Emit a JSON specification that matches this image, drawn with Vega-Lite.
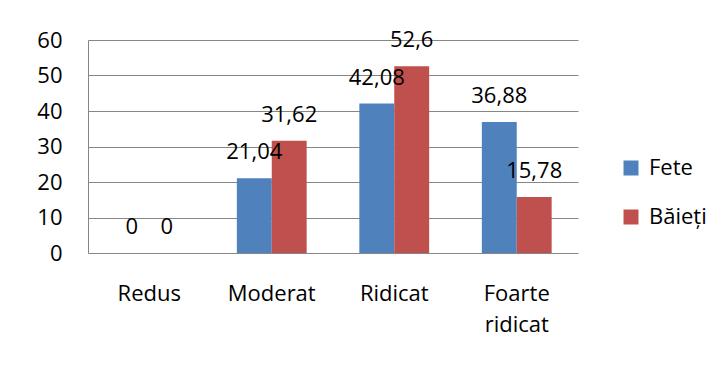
{
  "$schema": "https://vega.github.io/schema/vega-lite/v6.json",
  "autosize": "none",
  "width": 490,
  "height": 213,
  "padding": {"left": 88, "top": 40, "right": 146, "bottom": 114},
  "background": "white",
  "config": {
    "view": {"stroke": null},
    "font": "Open Sans",
    "locale": {"number": {"decimal": ",", "thousands": ".", "grouping": [3], "currency": ["", " €"]}}
  },
  "data": {
    "values": [
      {"cat": "Redus", "group": "Fete", "value": 0},
      {"cat": "Redus", "group": "Băieți", "value": 0},
      {"cat": "Moderat", "group": "Fete", "value": 21.04},
      {"cat": "Moderat", "group": "Băieți", "value": 31.62},
      {"cat": "Ridicat", "group": "Fete", "value": 42.08},
      {"cat": "Ridicat", "group": "Băieți", "value": 52.6},
      {"cat": "Foarte ridicat", "group": "Fete", "value": 36.88},
      {"cat": "Foarte ridicat", "group": "Băieți", "value": 15.78}
    ]
  },
  "encoding": {
    "x": {
      "field": "cat", "type": "nominal", "sort": null,
      "scale": {"paddingInner": 0.43, "paddingOuter": 0.215},
      "axis": {
        "title": null, "labelAngle": 0, "ticks": false, "tickSize": 0, "domain": false,
        "labelFontSize": 22, "labelColor": "#000000", "labelPadding": 30,
        "labelLineHeight": 31, "labelFont": "Open Sans",
        "labelExpr": "datum.label == 'Foarte ridicat' ? ['Foarte', 'ridicat'] : datum.label"
      }
    },
    "xOffset": {"field": "group", "type": "nominal", "sort": ["Fete", "Băieți"], "scale": {"paddingInner": 0, "paddingOuter": 0}},
    "y": {
      "field": "value", "type": "quantitative",
      "scale": {"domain": [0, 60], "nice": false},
      "axis": {
        "title": null, "values": [0, 10, 20, 30, 40, 50, 60], "ticks": false, "tickSize": 0,
        "domainColor": "#868686", "gridColor": "#868686", "gridWidth": 1,
        "labelFontSize": 22, "labelColor": "#000000", "labelPadding": 26, "labelFont": "Open Sans"
      }
    }
  },
  "layer": [
    {
      "mark": {"type": "bar"},
      "encoding": {
        "color": {
          "field": "group", "type": "nominal", "sort": ["Fete", "Băieți"],
          "scale": {"domain": ["Fete", "Băieți"], "range": ["#4F81BD", "#C0504D"]},
          "legend": {
            "title": null, "orient": "none", "legendX": 532, "legendY": 117,
            "symbolType": "square", "symbolSize": 225, "symbolStrokeWidth": 0,
            "labelFontSize": 22, "labelColor": "#000000", "labelFont": "Open Sans",
            "rowPadding": 27, "labelOffset": 7, "padding": 0
          }
        }
      }
    },
    {
      "mark": {"type": "text", "dy": -26, "fontSize": 22, "color": "#000000", "baseline": "middle", "font": "Open Sans"},
      "encoding": {
        "text": {"field": "value", "type": "quantitative", "format": "~g"}
      }
    }
  ]
}
